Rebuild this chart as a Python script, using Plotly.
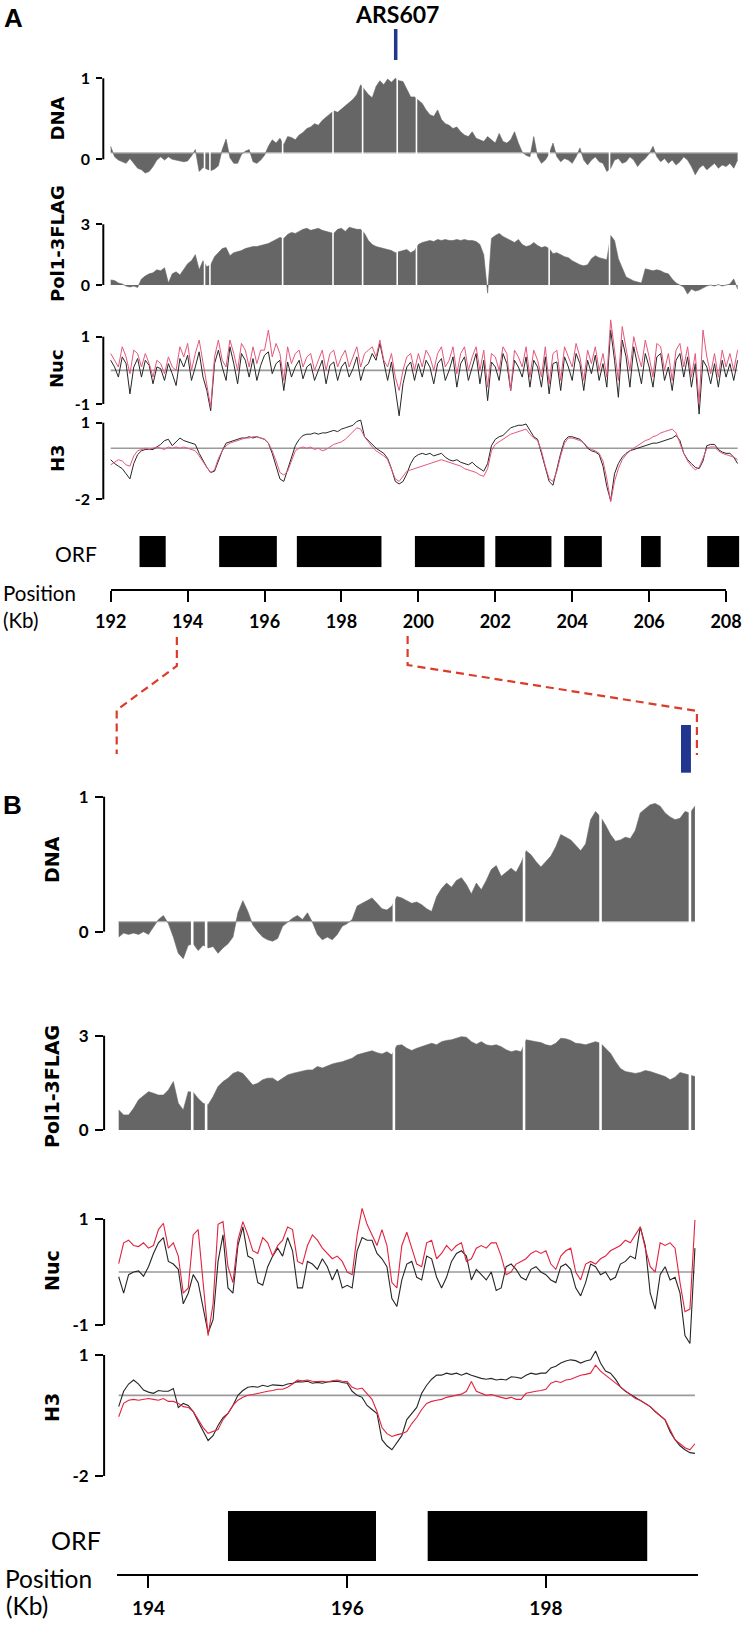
import plotly.graph_objects as go

W, H = 746, 1627

# ------------------------------------------------------------------ data
# Panel A: 192.0 .. 208.3 kb, one value per 0.1 kb
A_START = 192.0
A_STEP = 0.1
A_DNA = [
    0.16, 0.03, -0.01, -0.03, -0.05, 0.01, -0.05, -0.11, -0.13, -0.17,
    -0.15, -0.09, -0.01, 0.03, -0.01, 0.03, 0.0, -0.01, -0.02, -0.03,
    -0.02, 0.04, 0.12, -0.15, -0.1, -0.12, -0.14, -0.12, -0.08, 0.12,
    0.25, 0.02, -0.05, -0.05, 0.06, 0.1, 0.12, -0.03, -0.05, -0.01,
    0.05, 0.16, 0.24, 0.2, 0.26, 0.18, 0.28, 0.27, 0.24, 0.3,
    0.33, 0.38, 0.4, 0.44, 0.42, 0.48, 0.52, 0.55, 0.6, 0.58,
    0.62, 0.66, 0.7, 0.74, 0.8, 0.92, 0.86, 0.8, 0.76, 0.9,
    0.97, 0.92, 0.99, 0.95, 1.0, 0.97, 0.96, 0.86, 0.77, 0.77,
    0.73, 0.69, 0.61, 0.55, 0.53, 0.61, 0.49, 0.44, 0.42, 0.38,
    0.40, 0.34, 0.30, 0.28, 0.34, 0.26, 0.24, 0.22, 0.28, 0.24,
    0.20, 0.32, 0.22, 0.20, 0.24, 0.34, 0.20, 0.09, 0.05, 0.03,
    0.28, 0.03, -0.05, -0.01, 0.07, 0.20, 0.03, -0.03, 0.01, -0.01,
    -0.05, 0.03, 0.14, -0.01, -0.07, -0.01, 0.03, -0.03, -0.05, -0.15,
    -0.11, -0.01, 0.01, -0.05, -0.03, 0.03, -0.01, -0.09, -0.03, 0.01,
    0.07, 0.16, 0.03, -0.03, 0.01, -0.05, -0.01, -0.07, -0.03, 0.03,
    -0.01, -0.09, -0.19, -0.11, -0.07, -0.13, -0.09, -0.05, -0.11, -0.07,
    -0.09, -0.05, -0.11, -0.01,
]
A_POL1 = [
    0.25, 0.22, 0.1, 0.05, -0.05, -0.1, -0.05, -0.12, 0.3, 0.45,
    0.55, 0.6, 0.75, 0.7, 0.85, 0.1, 0.55, 0.65, 0.5, 0.8,
    1.05, 1.2, 1.5, 0.75, 1.2, 0.9, 1.0, 1.4, 1.6, 1.8,
    1.85, 1.45, 1.6, 1.65, 1.7, 1.8, 1.85, 1.9, 1.9, 1.95,
    2.0, 2.05, 2.15, 2.25, 2.35, 2.3, 2.5, 2.6, 2.55, 2.65,
    2.75, 2.8, 2.7, 2.75, 2.8, 2.7, 2.65, 2.6, 2.55, 2.75,
    2.8, 2.65, 2.85, 2.8, 2.75, 2.75, 2.55, 2.2, 2.0, 1.9,
    1.85, 1.8, 1.75, 1.7, 1.6, 1.65, 1.7, 1.75, 1.6, 1.7,
    2.0, 2.1, 2.15, 2.2, 2.15, 2.25, 2.2, 2.25, 2.2, 2.2,
    2.25, 2.2, 2.25, 2.2, 2.2, 2.15, 2.0, 1.5, -0.4, 2.3,
    2.45, 2.55, 2.4, 2.3, 2.2, 2.1, 2.25, 2.0, 1.9, 1.95,
    2.1, 1.95, 1.85, 1.9, 1.8, 1.55, 1.6, 1.5, 1.4, 1.35,
    1.2, 1.1, 1.0, 0.95, 1.0, 1.3, 1.45, 1.35, 1.3, 1.25,
    2.45, 2.2, 1.3, 0.8, 0.4, 0.3, 0.2, 0.15, 0.1, 0.8,
    0.75, 0.7, 0.75, 0.7, 0.6, 0.55, 0.3, 0.1, 0.0, -0.1,
    -0.45, -0.2, -0.3, -0.25, -0.15, -0.05, 0.0, -0.05, 0.02, -0.05,
    0.0, 0.05, 0.3, -0.2,
]
A_NUC_BLACK = [
    0.3, 0.1, -0.2, 0.4, 0.2, -0.7, 0.1, 0.35, -0.2, 0.3,
    0.15, -0.4, 0.1, 0.05, -0.3, 0.2, -0.1, -0.45, 0.35, 0.1,
    0.45, -0.3, 0.1, 0.55, -0.2, -0.6, -1.2, 0.2, 0.6, 0.1,
    -0.3, 0.7, 0.2, -0.4, 0.5, 0.3, -0.2, 0.35, -0.3, 0.15,
    0.45, 0.55, -0.1, 0.2, 0.3, -0.6, 0.25, -0.2, 0.1, 0.3,
    -0.25, 0.1, 0.2, -0.3, 0.0, 0.3, -0.4, 0.15, 0.25, -0.3,
    0.1, 0.25, -0.2, 0.05, 0.4, -0.3, 0.1, 0.2, 0.5, 0.3,
    0.8, 0.2, -0.3, 0.25, -0.5, -1.35, -0.4, 0.1, 0.25, -0.3,
    0.2, -0.2, 0.3, 0.1, -0.4, 0.2, 0.35, -0.3, 0.0, 0.4,
    -0.5, 0.2, 0.4, -0.3, 0.1, 0.5, -0.4, 0.3, -0.9, 0.25,
    0.1, -0.3, 0.5, 0.2, -0.6, 0.3, 0.1, -0.2, 0.4, -0.5,
    0.3, 0.1, -0.5, 0.4, -0.7, 0.2, 0.25, -0.6, 0.4, 0.1,
    -0.3, 0.5, 0.2, -0.6, 0.3, -0.1, 0.45, -0.3, 0.2, -0.5,
    1.2, 0.3, -0.8, 0.9, 0.4, -0.5, 0.7, 0.2, -0.4, 0.5,
    0.1, -0.5, 0.4, 0.5, -0.3, 0.1, -0.6, 0.3, 0.5, -0.2,
    0.4, -0.5, 0.2, -1.3, 0.3, 0.1, -0.4, 0.2, -0.5, 0.3,
    -0.2, 0.2, -0.3, 0.3,
]
A_NUC_RED = [
    0.5, 0.3, 0.1, 0.7, 0.4, -0.1, 0.6, 0.5, 0.1, 0.5,
    0.2, -0.2, 0.3, 0.2, -0.1, 0.4, 0.1, 0.0, 0.7, 0.4,
    0.8, 0.0, 0.5, 0.9, 0.2, -0.5, -1.1, 0.4, 0.9, 0.3,
    0.1, 0.9, 0.5, 0.0, 0.8, 0.6, 0.1, 0.7, 0.2, 0.6,
    0.6, 1.2, 0.4, 0.8, 0.5, -0.3, 0.7, 0.2, 0.5, 0.6,
    0.1, 0.4, 0.5, 0.0, 0.3, 0.6, 0.0, 0.5, 0.6, 0.1,
    0.4, 0.6, 0.1, 0.4, 0.7, 0.1, 0.5, 0.6, 0.7, 0.4,
    0.9, 0.3, 0.1, 0.5, -0.2, -0.6, 0.0, 0.4, 0.5, 0.0,
    0.5, 0.1, 0.6, 0.4, 0.0, 0.5, 0.7, 0.1, 0.3, 0.7,
    -0.1, 0.5, 0.7, 0.0, 0.4, 0.7, 0.0, 0.6, -0.5, 0.5,
    0.4, 0.0, 0.7, 0.5, -0.6, 0.6, 0.4, 0.1, 0.7, -0.2,
    0.6, 0.3, -0.2, 0.7, -0.4, 0.5, 0.6, -0.3, 0.7, 0.4,
    0.1, 0.8, 0.4, -0.3, 0.6, 0.2, 0.7, 0.0, 0.5, -0.2,
    1.5, 0.6, -0.3, 1.3, 0.7, 0.0, 1.0, 0.5, 0.1, 0.9,
    0.4, -0.2, 0.8, 0.7, 0.0, 0.5, -0.3, 0.6, 0.8, 0.1,
    0.7, -0.2, 0.5, -1.0, 1.2, 0.4, -0.1, 0.5, -0.2, 0.6,
    0.1, 0.5, 0.0, 0.6,
]
A_H3_BLACK = [
    -0.45, -0.6, -0.7, -0.8, -1.0, -1.2, -0.6, -0.25, -0.1, -0.05,
    -0.05, -0.05, 0.05, 0.15, 0.3, 0.35, 0.1, 0.25, 0.4, 0.3,
    0.25, 0.2, 0.15, -0.2, -0.5, -0.75, -0.95, -0.9, -0.5, -0.1,
    0.2, 0.25, 0.3, 0.35, 0.4, 0.4, 0.45, 0.4, 0.45, 0.4,
    0.35, 0.2, -0.2, -0.7, -1.2, -1.3, -0.8, -0.4, 0.1, 0.35,
    0.5, 0.55, 0.55, 0.6, 0.55, 0.6, 0.6, 0.65, 0.7, 0.65,
    0.75, 0.8, 0.85, 0.9, 1.05, 1.1, 0.45, 0.3, 0.15, 0.0,
    -0.1, -0.2, -0.4, -0.8, -1.3, -1.4, -1.3, -1.0, -0.6, -0.35,
    -0.25, -0.2, -0.25, -0.2, -0.3, -0.25, -0.2, -0.35, -0.45, -0.5,
    -0.45, -0.55, -0.6, -0.65, -0.55, -0.7, -0.8, -0.9, -0.6, 0.1,
    0.35, 0.45, 0.5, 0.65, 0.8, 0.85, 0.9, 0.9, 0.95, 0.7,
    0.45, 0.35, -0.2, -0.8, -1.3, -1.45, -0.8, -0.2, 0.3, 0.45,
    0.45, 0.4, 0.35, 0.2, 0.0, -0.1, -0.15, -0.25, -0.7, -1.5,
    -2.05, -1.0, -0.6, -0.35, -0.2, -0.1, -0.05, 0.0, 0.05, 0.1,
    0.15, 0.2, 0.2, 0.25, 0.3, 0.35, 0.4, 0.5, 0.3, -0.2,
    -0.45, -0.6, -0.75, -0.8, -0.5, 0.1, 0.15, 0.15, -0.05, -0.15,
    -0.2, -0.2, -0.35, -0.6,
]
A_H3_RED = [
    -0.65, -0.55, -0.45, -0.5, -0.65, -0.7, -0.3, -0.1, -0.05, 0.0,
    -0.05, 0.0, 0.05, 0.0, -0.05, 0.05, 0.0, 0.05, 0.0, 0.05,
    0.0, -0.05, -0.1, -0.3, -0.55, -0.75, -0.95, -0.85, -0.4, -0.1,
    0.1, 0.2, 0.25, 0.3, 0.35, 0.4, 0.4, 0.45, 0.45, 0.4,
    0.35, 0.2, -0.1, -0.5, -0.95, -1.05, -0.9, -0.5, -0.1, 0.0,
    0.05, 0.0, 0.05, -0.05, 0.0, -0.1, -0.05, 0.05, 0.15, 0.2,
    0.25, 0.35, 0.5, 0.65, 0.8, 0.75, 0.45, 0.25, 0.05, -0.1,
    -0.2, -0.3, -0.45, -0.8, -1.2, -1.3, -1.1, -0.9, -0.85, -0.8,
    -0.75, -0.7, -0.65, -0.6, -0.55, -0.5, -0.45, -0.5, -0.55, -0.6,
    -0.65, -0.7, -0.8, -0.85, -0.9, -0.95, -1.05, -1.1, -0.8, -0.1,
    0.15, 0.25, 0.35, 0.45, 0.55, 0.6, 0.65, 0.7, 0.75, 0.55,
    0.4, 0.3, -0.1, -0.7, -1.2, -1.3, -0.9, -0.3, 0.2, 0.4,
    0.4, 0.35, 0.3, 0.2, 0.05, -0.05, -0.1, -0.2, -0.5, -1.2,
    -2.1, -1.3, -0.8, -0.45, -0.25, -0.1, 0.0, 0.1, 0.2, 0.3,
    0.35, 0.45, 0.5, 0.6, 0.65, 0.7, 0.75, 0.6, 0.2, -0.2,
    -0.5, -0.7, -0.85, -0.75, -0.4, 0.0, 0.05, 0.05, -0.1, -0.2,
    -0.25, -0.3, -0.35, -0.45,
]

# Panel B: 193.70 .. 199.50 kb, one value per 0.05 kb
B_START = 193.70
B_STEP = 0.05
B_DNA = [
    -0.04, -0.01, -0.02, -0.01, -0.02, 0.0, -0.02, 0.04, 0.09, 0.12,
    0.06, -0.04, -0.16, -0.2, -0.1, -0.09, -0.14, -0.1, -0.12, -0.11,
    -0.16, -0.12, -0.09, -0.04, 0.14, 0.23, 0.15, 0.05, 0.0, -0.04,
    -0.06, -0.07, -0.05, 0.04, 0.07, 0.1, 0.12, 0.09, 0.14, 0.07,
    -0.02, -0.06, -0.04, -0.06, -0.02, 0.04, 0.06, 0.09, 0.19, 0.21,
    0.23, 0.25, 0.21, 0.17, 0.16, 0.19, 0.26, 0.25, 0.23, 0.21,
    0.22, 0.2, 0.17, 0.15, 0.26, 0.32, 0.36, 0.33, 0.38, 0.4,
    0.35, 0.28, 0.36, 0.31, 0.38, 0.46, 0.49, 0.41, 0.44, 0.47,
    0.44, 0.51, 0.6, 0.57, 0.52, 0.48, 0.52, 0.56, 0.63, 0.72,
    0.7, 0.68, 0.64, 0.6, 0.65, 0.83, 0.89, 0.85, 0.79, 0.72,
    0.67, 0.68, 0.7, 0.69, 0.75, 0.88, 0.91, 0.94, 0.95, 0.93,
    0.88, 0.85, 0.83, 0.84, 0.89, 0.88, 0.93,
]
B_POL1 = [
    0.64, 0.48, 0.48, 0.69, 0.96, 1.1, 1.22, 1.17, 1.11, 1.11,
    1.27, 1.54, 0.85, 0.64, 1.22, 1.2, 1.0, 0.85, 0.8, 1.06,
    1.38, 1.54, 1.65, 1.8, 1.86, 1.8, 1.6, 1.43, 1.49, 1.6,
    1.65, 1.65, 1.54, 1.65, 1.75, 1.8, 1.83, 1.86, 1.91, 1.91,
    2.02, 1.97, 2.04, 2.1, 2.14, 2.17, 2.23, 2.28, 2.39, 2.44,
    2.49, 2.52, 2.46, 2.42, 2.49, 2.39, 2.69, 2.71, 2.6, 2.53,
    2.6, 2.65, 2.71, 2.76, 2.71, 2.81, 2.85, 2.87, 2.92, 2.97,
    2.95, 2.81, 2.73, 2.81, 2.71, 2.68, 2.71, 2.65, 2.55, 2.49,
    2.53, 2.49, 2.87, 2.85, 2.81, 2.78, 2.71, 2.68, 2.76, 2.92,
    2.9, 2.85, 2.76, 2.74, 2.71, 2.76, 2.81, 2.76, 2.6, 2.44,
    2.18, 1.96, 1.86, 1.83, 1.8, 1.83, 1.89, 1.86, 1.8, 1.75,
    1.7, 1.6, 1.68, 1.83, 1.78, 1.75, 1.7,
]
B_NUC_BLACK = [
    -0.09, -0.4, -0.05, 0.0, 0.02, -0.08, 0.1, 0.35, 0.55, 0.65,
    0.2, 0.15, 0.05, -0.6, -0.4, -0.05, -0.2, -0.7, -1.15, -0.9,
    0.2, 0.7, -0.3, -0.4, 0.5, 0.85, 0.3, 0.25, -0.2, -0.25,
    0.1, 0.3, 0.45, 0.3, 0.65, 0.4, -0.3, -0.3, 0.2, 0.15,
    0.05, 0.25, 0.1, -0.15, 0.05, -0.3, -0.25, -0.3, 0.4, 0.65,
    0.6, 0.6, 0.35, 0.25, 0.1, -0.5, -0.65, -0.15, 0.15, 0.2,
    -0.1, -0.15, 0.3, 0.25, -0.1, -0.3, -0.1, 0.2, 0.35, 0.4,
    0.3, -0.15, 0.05, -0.05, -0.15, 0.0, -0.35, -0.3, 0.1, 0.15,
    0.05, -0.1, -0.15, 0.05, 0.1, 0.0, -0.05, -0.15, -0.2, 0.1,
    0.15, 0.05, -0.3, -0.45, -0.2, 0.15, 0.1, -0.05, 0.0, -0.15,
    -0.1, 0.15, 0.2, 0.3, 0.25, 0.85, 0.5, -0.4, -0.7, -0.05,
    0.1, -0.15, -0.1, -0.4, -1.2, -1.35, 0.45,
]
B_NUC_RED = [
    0.16, 0.55, 0.6, 0.5, 0.48, 0.55, 0.45, 0.5, 0.8, 0.92,
    0.45, 0.55, 0.3, -0.4, -0.3, 0.7, 0.8, -0.2, -1.2, -0.6,
    0.9, 0.95, 0.1, -0.2, 0.6, 0.95, 0.7, 0.4, 0.35, 0.65,
    0.55, 0.3, 0.5, 0.6, 0.85, 0.8, 0.2, 0.15, 0.5, 0.7,
    0.6, 0.45, 0.35, 0.25, 0.3, 0.2, 0.0, -0.05, 0.7, 1.2,
    0.9, 0.7, 0.5, 0.8, 0.5, -0.2, -0.3, 0.5, 0.75, 0.45,
    0.15, 0.1, 0.55, 0.6, 0.25, 0.35, 0.5, 0.4, 0.5, 0.55,
    0.2, 0.25, 0.45, 0.5, 0.45, 0.55, 0.55, 0.3, -0.05, 0.0,
    0.15, 0.2, 0.25, 0.35, 0.4, 0.35, 0.4, 0.15, 0.05, 0.3,
    0.4, 0.45, 0.0, -0.15, 0.15, 0.2, 0.15, 0.25, 0.3, 0.4,
    0.45, 0.5, 0.6, 0.55, 0.7, 0.85, 0.45, 0.1, 0.0, 0.55,
    0.5, 0.55, 0.45, -0.2, -0.75, -0.7, 0.98,
]
B_H3_BLACK = [
    -0.28, 0.1, 0.28, 0.38, 0.28, 0.13, 0.08, 0.05, 0.12, 0.1,
    0.1, 0.17, -0.3, -0.2, -0.25, -0.4, -0.65, -0.9, -1.12, -1.0,
    -0.75, -0.55, -0.45, -0.25, 0.0, 0.12, 0.2, 0.22, 0.2, 0.25,
    0.22, 0.26, 0.25, 0.24, 0.28, 0.3, 0.34, 0.33, 0.35, 0.3,
    0.32, 0.3, 0.33, 0.34, 0.35, 0.32, 0.3, 0.1, 0.0, -0.05,
    -0.25, -0.35, -0.45, -1.1, -1.25, -1.35, -1.19, -1.0, -0.6, -0.45,
    -0.3, 0.05, 0.25, 0.4, 0.5, 0.5, 0.55, 0.52, 0.55, 0.5,
    0.55, 0.5, 0.46, 0.42, 0.4, 0.42, 0.38, 0.4, 0.38, 0.46,
    0.45, 0.42, 0.5, 0.55, 0.52, 0.55, 0.55, 0.68, 0.72, 0.8,
    0.85, 0.88, 0.86, 0.8, 0.85, 0.88, 1.1, 0.8, 0.6, 0.55,
    0.4, 0.21, 0.1, 0.02, -0.05, -0.12, -0.2, -0.28, -0.4, -0.5,
    -0.61, -0.9, -1.1, -1.25, -1.35, -1.42, -1.44,
]
B_H3_RED = [
    -0.53, -0.2, -0.12, -0.1, -0.12, -0.1, -0.08, -0.1, -0.12, -0.08,
    -0.15, -0.15, -0.2, -0.28, -0.3, -0.4, -0.6, -0.8, -0.94, -0.9,
    -0.85, -0.6, -0.45, -0.25, -0.12, -0.05, 0.0, 0.02, 0.05, 0.08,
    0.1, 0.12, 0.15, 0.15, 0.2, 0.28, 0.38, 0.36, 0.38, 0.35,
    0.34, 0.35, 0.33, 0.36, 0.38, 0.35, 0.34, 0.2, 0.15, 0.18,
    0.05, -0.1, -0.4, -0.8, -0.95, -1.02, -0.98, -0.95, -0.9, -0.7,
    -0.55, -0.35, -0.2, -0.15, -0.12, -0.1, -0.05, -0.02, 0.0, 0.03,
    0.1, 0.34, 0.1, 0.05, 0.0, 0.02, -0.02, -0.05, -0.08, -0.05,
    -0.1, -0.1, 0.05, 0.08, 0.1, 0.12, 0.15, 0.3, 0.35, 0.32,
    0.38, 0.4, 0.46, 0.5, 0.52, 0.55, 0.75, 0.6, 0.5, 0.4,
    0.3, 0.2, 0.1, 0.0, -0.08, -0.12, -0.2, -0.28, -0.4, -0.5,
    -0.61, -0.85, -1.1, -1.2, -1.3, -1.35, -1.2,
]

DNA_BASELINE_A = 0.08
DNA_BASELINE_B = 0.075

ORF_A_START = [192.75, 194.82, 196.84, 199.91, 202.00, 203.79, 205.79, 207.51]
ORF_A_END = [193.43, 196.32, 199.04, 201.72, 203.46, 204.77, 206.30, 208.34]
ORF_B_START = [194.80, 196.81]
ORF_B_END = [196.29, 199.02]

GAPS_A = [194.44, 194.58, 196.47, 197.78, 198.55, 199.45, 199.95, 203.40, 204.97]
GAPS_B = [194.44, 194.58, 196.47, 197.78, 198.55, 199.45]

ARS607_KB = [199.36, 199.46]
ZOOM_A_KB = [193.72, 199.72]
ZOOM_B_KB = [193.68, 199.52]

POS_TICKS_A = [192, 194, 196, 198, 200, 202, 204, 206, 208]
POS_TICKS_B = [194, 196, 198]

A_X = [round(A_START + i * A_STEP, 3) for i in range(len(A_DNA))]
B_X = [round(B_START + i * B_STEP, 3) for i in range(len(B_DNA))]

# ------------------------------------------------------------------ geometry
def fx(px):
    return px / W


def fy(py):
    return 1 - py / H


A_X0_PX, A_KB0, A_PPK = 110.7, 192.0, 38.46
B_X0_PX, B_KB0, B_PPK = 116.7, 193.68, 99.35


def a_px(kb):
    return A_X0_PX + (kb - A_KB0) * A_PPK


def b_px(kb):
    return B_X0_PX + (kb - B_KB0) * B_PPK


def a_kb(px):
    return A_KB0 + (px - A_X0_PX) / A_PPK


def b_kb(px):
    return B_KB0 + (px - B_X0_PX) / B_PPK


PANEL = {
    "A": dict(spine=103.3, right=740.0, kb=a_kb, ticklen=6, tfont=16, gapw=1.6,
              red="#e5577a", lfont=18, lx=57, lw=1.0),
    "B": dict(spine=104.1, right=701.0, kb=b_kb, ticklen=8, tfont=17, gapw=2.6,
              red="#e3223f", lfont=19, lx=52, lw=1.1),
}

fig = go.Figure()
layout_axes = {}
shapes = []
annotations = []

TXT_FONT = "Lato"


def names(i):
    s = "" if i == 1 else str(i)
    return "x" + s, "y" + s, "xaxis" + s, "yaxis" + s


def yrange(v_hi, p_hi, v_lo, p_lo, top, bot):
    s = (p_lo - p_hi) / (v_hi - v_lo)
    return [v_lo - (bot - p_lo) / s, v_hi + (p_hi - top) / s]


def track_axes(i, panel, top, bot, v_hi=None, p_hi=None, v_lo=None, p_lo=None, yr=None):
    P = PANEL[panel]
    xn, yn, xa, ya = names(i)
    xr = [P["kb"](P["spine"]), P["kb"](P["right"])]
    layout_axes[xa] = dict(domain=[fx(P["spine"]), fx(P["right"])], range=xr,
                           visible=False, anchor=yn, fixedrange=True, automargin=False)
    if yr is None:
        yr = yrange(v_hi, p_hi, v_lo, p_lo, top, bot)
        layout_axes[ya] = dict(
            domain=[fy(bot), fy(top)], range=yr, anchor=xn, automargin=False,
            tickvals=[v_lo, v_hi], ticktext=[f"{v_lo:g}", f"{v_hi:g}"],
            ticks="outside", ticklen=P["ticklen"], tickwidth=2, tickcolor="black",
            showline=False, showgrid=False, zeroline=False, ticklabelstandoff=3,
            tickfont=dict(family=TXT_FONT, size=P["tfont"], color="black", weight="bold"),
            fixedrange=True,
        )
        shapes.append(dict(type="line", xref="paper", yref=yn,
                           x0=fx(P["spine"]), x1=fx(P["spine"]), y0=v_lo, y1=v_hi,
                           line=dict(color="black", width=2)))
    else:
        layout_axes[ya] = dict(domain=[fy(bot), fy(top)], range=yr, anchor=xn,
                               visible=False, fixedrange=True, automargin=False)
    return xn, yn, xr, yr


def add_gaps(xn, yn, gaps, yr, width):
    gx, gy = [], []
    for g in gaps:
        gx += [g, g, None]
        gy += [yr[0], yr[1], None]
    fig.add_trace(go.Scatter(x=gx, y=gy, mode="lines", xaxis=xn, yaxis=yn,
                             line=dict(color="white", width=width),
                             hoverinfo="skip", showlegend=False))


def dna_track(i, panel, xs, vals, base, gaps, **kw):
    xn, yn, xr, yr = track_axes(i, panel, **kw)
    fig.add_trace(go.Scatter(x=[xs[0], xs[-1]], y=[base, base], mode="lines",
                             xaxis=xn, yaxis=yn, line=dict(color="#b5b5b5", width=1.2),
                             hoverinfo="skip", showlegend=False))
    fig.add_trace(go.Scatter(x=xs, y=vals, mode="lines", fill="tonexty",
                             fillcolor="#666666", xaxis=xn, yaxis=yn,
                             line=dict(color="#666666", width=0.6),
                             hoverinfo="skip", showlegend=False))
    add_gaps(xn, yn, gaps, yr, PANEL[panel]["gapw"])


def pol_track(i, panel, xs, vals, gaps, **kw):
    xn, yn, xr, yr = track_axes(i, panel, **kw)
    fig.add_trace(go.Scatter(x=xs, y=vals, mode="lines", fill="tozeroy",
                             fillcolor="#666666", xaxis=xn, yaxis=yn,
                             line=dict(color="#666666", width=0.6),
                             hoverinfo="skip", showlegend=False))
    add_gaps(xn, yn, gaps, yr, PANEL[panel]["gapw"])


def line_track(i, panel, xs, black, red, **kw):
    P = PANEL[panel]
    xn, yn, xr, yr = track_axes(i, panel, **kw)
    fig.add_trace(go.Scatter(x=[xs[0], xs[-1]], y=[0, 0], mode="lines",
                             xaxis=xn, yaxis=yn, line=dict(color="#9a9a9a", width=1.6),
                             hoverinfo="skip", showlegend=False))
    fig.add_trace(go.Scatter(x=xs, y=black, mode="lines", xaxis=xn, yaxis=yn,
                             line=dict(color="#262626", width=P["lw"]),
                             hoverinfo="skip", showlegend=False))
    fig.add_trace(go.Scatter(x=xs, y=red, mode="lines", xaxis=xn, yaxis=yn,
                             line=dict(color=P["red"], width=P["lw"]),
                             hoverinfo="skip", showlegend=False))


def orf_track(i, panel, starts, ends, top, bot):
    xn, yn, xr, yr = track_axes(i, panel, top, bot, yr=[0, 1])
    fig.add_trace(go.Bar(x=[e - s for s, e in zip(starts, ends)], base=starts,
                         y=[0.5] * len(starts), orientation="h", width=1,
                         marker=dict(color="black", line=dict(width=0)),
                         xaxis=xn, yaxis=yn, hoverinfo="skip", showlegend=False))


def pos_axis(i, kb_range, px_range, line_py, ticks, ticklen, fsize):
    xn, yn, xa, ya = names(i)
    layout_axes[xa] = dict(domain=[fx(px_range[0]), fx(px_range[1])], range=kb_range,
                           anchor=yn, showline=True, linewidth=2, linecolor="black",
                           ticks="outside", ticklen=ticklen, tickwidth=2, tickcolor="black",
                           tickvals=ticks, ticktext=[str(t) for t in ticks],
                           showgrid=False, zeroline=False, ticklabelstandoff=4,
                           automargin=False,
                           tickfont=dict(family=TXT_FONT, size=fsize, color="black",
                                         weight="bold"),
                           fixedrange=True)
    layout_axes[ya] = dict(domain=[fy(line_py), fy(line_py) + 0.003], range=[0, 1],
                           anchor=xn, visible=False, fixedrange=True, automargin=False)
    fig.add_trace(go.Scatter(x=kb_range, y=[0.5, 0.5], mode="lines", xaxis=xn, yaxis=yn,
                             line=dict(width=0, color="rgba(0,0,0,0)"),
                             hoverinfo="skip", showlegend=False))


# ---------------- panel A
dna_track(1, "A", A_X, A_DNA, DNA_BASELINE_A, GAPS_A, top=70, bot=182,
          v_hi=1, p_hi=78.3, v_lo=0, p_lo=159.3)
pol_track(2, "A", A_X, A_POL1, GAPS_A, top=205, bot=302,
          v_hi=3, p_hi=224.3, v_lo=0, p_lo=285)
line_track(3, "A", A_X, A_NUC_BLACK, A_NUC_RED, top=310, bot=420,
           v_hi=1, p_hi=336.7, v_lo=-1, p_lo=404)
line_track(4, "A", A_X, A_H3_BLACK, A_H3_RED, top=418, bot=512,
           v_hi=1, p_hi=422.7, v_lo=-2, p_lo=499.3)
orf_track(5, "A", ORF_A_START, ORF_A_END, 536, 567.3)
pos_axis(6, [192, 208], [a_px(192), a_px(208)], 589.3, POS_TICKS_A, 11, 18)

# ---------------- panel B
dna_track(7, "B", B_X, B_DNA, DNA_BASELINE_B, GAPS_B, top=785, bot=968,
          v_hi=1, p_hi=796.7, v_lo=0, p_lo=931.7)
pol_track(8, "B", B_X, B_POL1, GAPS_B, top=1025, bot=1138,
          v_hi=3, p_hi=1035.7, v_lo=0, p_lo=1130)
line_track(9, "B", B_X, B_NUC_BLACK, B_NUC_RED, top=1195, bot=1350,
           v_hi=1, p_hi=1219, v_lo=-1, p_lo=1325)
line_track(10, "B", B_X, B_H3_BLACK, B_H3_RED, top=1346, bot=1484,
           v_hi=1, p_hi=1355, v_lo=-2, p_lo=1476)
orf_track(11, "B", ORF_B_START, ORF_B_END, 1511, 1561)
pos_axis(12, [193.68, 199.535], [b_px(193.68), b_px(199.535)], 1574.3, POS_TICKS_B, 12, 19)

# ---------------- ARS607 markers
ars_mid = (ARS607_KB[0] + ARS607_KB[1]) / 2
shapes.append(dict(type="line", xref="x", yref="paper", x0=ars_mid, x1=ars_mid,
                   y0=fy(60), y1=fy(29), line=dict(color="#22368f", width=3.5)))
shapes.append(dict(type="rect", xref="x7", yref="paper", x0=ARS607_KB[0], x1=ARS607_KB[1],
                   y0=fy(772.7), y1=fy(725), fillcolor="#22368f", line=dict(width=0)))


# ---------------- zoom connectors (red dashed)
def conn(kb_a, kb_b, ys):
    pts = [(a_px(kb_a), ys[0]), (a_px(kb_a), ys[1]), (b_px(kb_b), ys[2]), (b_px(kb_b), ys[3])]
    return "M " + " L ".join(f"{fx(x):.5f},{fy(y):.5f}" for x, y in pts)


for ka, kb, ys in [(ZOOM_A_KB[0], ZOOM_B_KB[0], (637, 666, 710, 754)),
                   (ZOOM_A_KB[1], ZOOM_B_KB[1], (636, 665, 711, 755))]:
    shapes.append(dict(type="path", xref="paper", yref="paper", path=conn(ka, kb, ys),
                       line=dict(color="#dd3b2a", width=2.2, dash="8px,5px")))


# ---------------- text
def ann(text, x, y, size, family, weight="bold", angle=0, xanchor="center", color="black"):
    annotations.append(dict(text=text, x=fx(x), y=fy(y), xref="paper", yref="paper",
                            showarrow=False, textangle=angle, xanchor=xanchor,
                            yanchor="middle",
                            font=dict(family=family, size=size, color=color, weight=weight)))


ann("A", 14, 18, 26, "Liberation Sans")
ann("B", 12, 805, 26, "Liberation Sans")
ann("ARS607", 396.5, 14, 23, TXT_FONT)

for name, y in [("DNA", 118.5), ("Pol1-3FLAG", 244), ("Nuc", 369), ("H3", 458)]:
    ann(name, PANEL["A"]["lx"], y, PANEL["A"]["lfont"], "DejaVu Sans", angle=-90)
for name, y in [("DNA", 860), ("Pol1-3FLAG", 1087), ("Nuc", 1271), ("H3", 1408)]:
    ann(name, PANEL["B"]["lx"], y, PANEL["B"]["lfont"], "DejaVu Sans", angle=-90)

ann("ORF", 76, 553, 21, TXT_FONT, weight="normal")
ann("Position", 1, 592.7, 20.5, TXT_FONT, weight="normal", xanchor="left")
ann("(Kb)", 1, 620, 20.5, TXT_FONT, weight="normal", xanchor="left")
ann("ORF", 76, 1540, 25, TXT_FONT, weight="normal")
ann("Position", 3, 1578, 24.5, TXT_FONT, weight="normal", xanchor="left")
ann("(Kb)", 4, 1605, 24.5, TXT_FONT, weight="normal", xanchor="left")

fig.update_layout(
    template="none",
    width=W, height=H, autosize=False,
    margin=dict(l=0, r=0, t=0, b=0, pad=0),
    paper_bgcolor="white", plot_bgcolor="white",
    showlegend=False, hovermode=False,
    shapes=shapes, annotations=annotations,
    **layout_axes,
)

# the page body has a default 8px margin; remove it so the figure sits at (0, 0)
fig.write_html(
    "out.html",
    config={"displayModeBar": False, "staticPlot": True},
    post_script="document.body.style.margin='0';document.body.style.padding='0';",
)
